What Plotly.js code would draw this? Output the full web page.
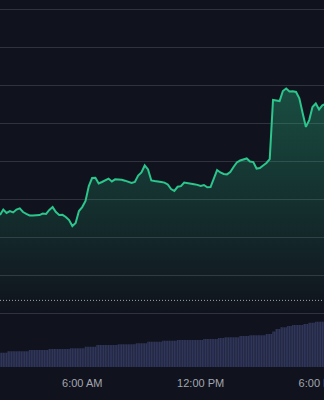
<!DOCTYPE html>
<html>
<head>
<meta charset="utf-8">
<script src="https://cdn.plot.ly/plotly-3.0.1.min.js"></script>
<style>
html,body{margin:0;padding:0;background:#10131d;}
#chart{width:324px;height:400px;}
</style>
</head>
<body>
<div id="chart"></div>
<script>
// ---- data ----
const priceStart = '2024-01-15T01:50:00';
const priceStepMin = 10;
const price = [
105.17,105.46,105.28,105.38,105.31,105.46,105.52,105.33,105.23,105.15,
105.15,105.16,105.17,105.25,105.23,105.44,105.59,105.33,105.17,105.18,
105.07,104.91,104.59,104.75,105.38,105.59,105.91,106.70,107.12,107.13,
106.83,106.91,107.02,107.09,106.94,107.05,107.04,107.03,106.98,106.91,
106.86,106.91,107.25,107.41,107.78,107.57,106.99,106.96,106.95,106.91,
106.88,106.78,106.54,106.44,106.66,106.69,106.88,106.86,106.82,106.79,
106.76,106.70,106.75,106.63,106.64,107.12,107.54,107.41,107.33,107.31,
107.44,107.70,107.94,108.04,108.08,108.15,107.99,107.96,107.62,107.65,
107.78,107.91,108.12,111.23,111.20,111.17,111.70,111.83,111.67,111.69,
111.65,111.31,110.54,109.81,110.17,110.86,111.04,110.73,110.94,111.02
];
const volStart = '2024-01-15T01:50:00';
const volStepMin = 5;
const volume = [
143,143,143,143,143,
157,157,157,157,157,157,157,157,157,157,157,157,157,
170,170,170,170,170,170,170,170,170,170,170,170,
180,180,180,180,180,180,180,180,180,180,180,180,180,
187,187,187,187,187,187,187,187,187,
203,203,203,203,203,203,203,
220,220,220,220,220,220,220,220,220,220,220,220,220,
227,227,227,227,227,227,227,227,227,227,227,
237,237,237,237,237,237,237,
253,253,253,253,253,253,253,253,253,
263,263,263,263,263,263,263,263,263,
270,270,270,270,270,270,270,270,270,270,270,270,270,270,270,270,
280,280,280,280,280,280,280,280,280,
290,290,290,290,
297,297,297,297,297,297,297,297,297,
310,310,310,310,310,310,
317,317,317,317,317,317,317,317,317,317,
330,330,330,330,
355,355,
380,380,380,
397,397,397,397,
410,410,410,
420,420,420,420,420,420,420,
430,430,430,
443,443,443,443,
453,453,453,453,453,453
];
const prevClose = 100.68;
const priceGrid = [100,102,104,106,108,110,112,114,116];
const xRange = ['2024-01-15T01:50:00','2024-01-15T18:15:00'];

// ---- helpers ----
function times(start, stepMin, n){
  const t0 = new Date(start + 'Z').getTime();
  const out = [];
  for(let i=0;i<n;i++){
    const d = new Date(t0 + i*stepMin*60000);
    out.push(d.toISOString().slice(0,19).replace('T',' '));
  }
  return out;
}
const priceTimes = times(priceStart, priceStepMin, price.length);
const volTimes = times(volStart, volStepMin, volume.length);

const H = 367; // plot area height in px
const traces = [
  {
    type:'bar', x: volTimes, y: volume, xaxis:'x', yaxis:'y2',
    marker:{color:'#30365a', line:{width:0}},
    hoverinfo:'skip'
  },
  {
    type:'scatter', mode:'lines', x: priceTimes, y: price, xaxis:'x', yaxis:'y',
    line:{color:'#2cc68c', width:2, shape:'linear'},
    fill:'tozeroy',
    fillgradient:{type:'vertical', start:100, stop:112,
      colorscale:[[0,'rgba(44,198,140,0)'],[1,'rgba(44,198,140,0.33)']]},
    hoverinfo:'skip'
  }
];

const layout = {
  width:324, height:400, autosize:false,
  margin:{l:0,r:0,t:0,b:33,pad:0},
  paper_bgcolor:'#10131d', plot_bgcolor:'#10131d',
  showlegend:false, bargap:0.12,
  font:{family:'Liberation Sans, Arial, sans-serif', size:11, color:'#a3a6af'},
  xaxis:{
    type:'date', range:xRange, anchor:'y2',
    tickmode:'linear', tick0:'2024-01-15 00:00', dtick:6*3600000,
    tickformat:'%-I:%M %p', showgrid:false, zeroline:false, showline:false,
    ticks:'', ticklabeloverflow:'allow', ticklabelstandoff:8,
    tickfont:{size:11, color:'#a3a6af'}, fixedrange:true
  },
  yaxis:{
    domain:[51/H,1], range:[99.858,116.489], tickmode:'array', tickvals:priceGrid,
    showticklabels:false, showgrid:true, gridcolor:'#2f333e', gridwidth:1,
    zeroline:false, showline:false, ticks:'', fixedrange:true
  },
  yaxis2:{
    domain:[0,49/H], range:[0,490], showgrid:false, showticklabels:false,
    zeroline:false, showline:false, ticks:'', fixedrange:true
  },
  shapes:[{
    type:'line', xref:'paper', x0:0, x1:1, yref:'y', y0:prevClose, y1:prevClose,
    line:{color:'#a0a4ae', width:1, dash:'1px,2px'}
  }]
};

Plotly.newPlot('chart', traces, layout, {displayModeBar:false, staticPlot:true});
</script>
</body>
</html>
